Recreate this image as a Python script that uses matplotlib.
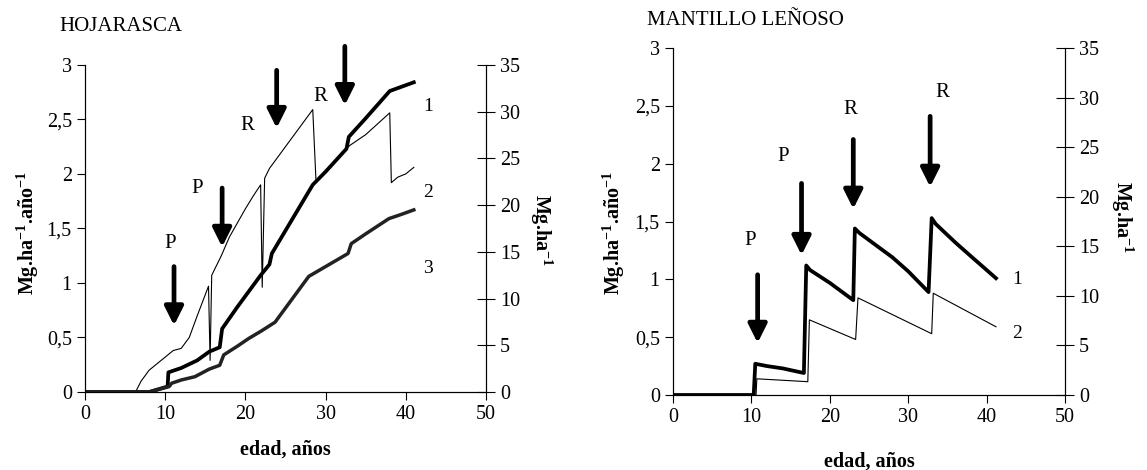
import matplotlib
matplotlib.use("Agg")
import matplotlib.pyplot as plt

plt.rcParams['font.family'] = ['Liberation Serif', 'DejaVu Serif']
plt.rcParams['mathtext.fontset'] = 'custom'
plt.rcParams['mathtext.rm'] = 'Liberation Serif:bold'
plt.rcParams['mathtext.bf'] = 'Liberation Serif:bold'
plt.rcParams['mathtext.default'] = 'bf'

# HOJARASCA (left panel), values in left-axis units
hoj1_x = [0, 8, 10.3, 10.4, 12, 14, 15.5, 16.8, 17.1, 19, 21.9, 23.0, 23.3,
          25, 28.4, 30, 32.6, 32.9, 35, 38, 41]
hoj1_y = [0, 0, 0.05, 0.18, 0.22, 0.29, 0.37, 0.41, 0.58, 0.78, 1.07, 1.17,
          1.27, 1.48, 1.90, 2.02, 2.23, 2.34, 2.51, 2.76, 2.84]

hoj2_x = [0, 6.3, 7, 8, 9, 10, 11, 12, 13, 14, 15.4, 15.6, 15.8, 17, 18, 19,
          20, 21, 21.9, 22.1, 22.4, 23, 24, 25, 26, 27, 28.4, 28.8, 30, 32.6,
          33, 35, 38, 38.2, 39, 40, 41]
hoj2_y = [0, 0, 0.1, 0.2, 0.26, 0.32, 0.38, 0.4, 0.5, 0.7, 0.97, 0.29, 1.07,
          1.25, 1.42, 1.55, 1.68, 1.8, 1.9, 0.96, 1.96, 2.05, 2.15, 2.25, 2.35,
          2.45, 2.59, 1.94, 2.02, 2.23, 2.26, 2.36, 2.56, 1.92, 1.97, 2.0, 2.06]

hoj3_x = [0, 8, 10.5, 10.8, 12, 13.7, 15.5, 16.8, 17.3, 19, 20.4, 22, 23.7,
          26, 27.9, 30, 32.8, 33.2, 35, 37.9, 39.5, 41]
hoj3_y = [0, 0, 0.05, 0.08, 0.11, 0.14, 0.21, 0.245, 0.34, 0.42, 0.49, 0.56,
          0.64, 0.87, 1.06, 1.15, 1.27, 1.36, 1.45, 1.59, 1.63, 1.67]

hoj_arrow_x = [11.1, 17.1, 23.9, 32.4]
hoj_arrow_top = [1.15, 1.87, 2.95, 3.17]
hoj_arrow_tip = [0.61, 1.33, 2.42, 2.63]
hoj_marks = ['P', 'P', 'R', 'R']
hoj_mark_x = [10.6, 14.0, 20.3, 29.3]
hoj_mark_y = [1.36, 1.87, 2.44, 2.71]
hoj_num = ['1', '2', '3']
hoj_num_y = [2.62, 1.83, 1.13]

# MANTILLO LEÑOSO (right panel)
man1_x = [0, 10.3, 10.5, 12, 14, 16.7, 17.0, 17.5, 20, 23.0, 23.2, 23.8, 26,
          28, 30, 32.6, 33.0, 33.5, 36, 38, 41.2]
man1_y = [0, 0, 0.27, 0.25, 0.23, 0.19, 1.12, 1.08, 0.97, 0.82, 1.44, 1.40,
          1.29, 1.19, 1.07, 0.89, 1.53, 1.48, 1.32, 1.20, 1.01]

man2_x = [0, 10.6, 10.7, 17.2, 17.4, 23.3, 23.6, 33.0, 33.2, 41.2]
man2_y = [0, 0, 0.14, 0.115, 0.65, 0.48, 0.84, 0.53, 0.88, 0.59]

man_arrow_x = [10.8, 16.4, 23.0, 32.8]
man_arrow_top = [1.04, 1.83, 2.21, 2.41]
man_arrow_tip = [0.45, 1.21, 1.61, 1.80]
man_marks = ['P', 'P', 'R', 'R']
man_mark_x = [9.9, 14.1, 22.6, 34.3]
man_mark_y = [1.34, 2.06, 2.47, 2.62]
man_num = ['1', '2']
man_num_y = [1.0, 0.53]

x_ticks = [0, 10, 20, 30, 40, 50]
left_ticks = [0, 0.5, 1, 1.5, 2, 2.5, 3]
left_labels = ['0', '0,5', '1', '1,5', '2', '2,5', '3']
right_ticks = [0, 5, 10, 15, 20, 25, 30, 35]


def style_axes(ax, xlab_pos, ylab_pos, rlab_pos):
    ax.set_xlim(0, 50)
    ax.set_ylim(0, 3)
    ax.set_xticks(x_ticks)
    ax.set_yticks(left_ticks)
    ax.set_yticklabels(left_labels)
    ax.tick_params(direction='out', length=6, labelsize=14.5)
    ax.spines['top'].set_visible(False)
    ax.set_xlabel('edad, años', fontsize=14.5, fontweight='bold', va='center')
    ax.xaxis.set_label_coords(*xlab_pos)
    ax.set_ylabel('Mg.ha$^{-1}$.año$^{-1}$', fontsize=14.5, fontweight='bold',
                  va='center')
    ax.yaxis.set_label_coords(*ylab_pos)
    ax2 = ax.twinx()
    ax2.set_ylim(0, 35)
    ax2.set_yticks(right_ticks)
    ax2.tick_params(direction='inout', length=13, labelsize=14.5)
    ax2.spines['top'].set_visible(False)
    ax2.set_ylabel('Mg.ha$^{-1}$', fontsize=14.5, fontweight='bold',
                   rotation=270, va='center')
    ax2.yaxis.set_label_coords(*rlab_pos)
    return ax2


def draw_arrows(ax, xs, tops, tips, marks, mx, my):
    for x, t, b in zip(xs, tops, tips):
        ax.annotate('', xy=(x, b), xytext=(x, t), annotation_clip=False,
                    arrowprops=dict(arrowstyle='-|>', lw=3.4, color='black',
                                    mutation_scale=28, shrinkA=0, shrinkB=0))
    for s, x, y in zip(marks, mx, my):
        ax.text(x, y, s, fontsize=15, ha='center', va='center')


fig = plt.figure(figsize=(11.47, 4.70), dpi=100)

ax = fig.add_axes([0.0741, 0.166, 0.3496, 0.696])
style_axes(ax, (0.5, -0.177), (-0.142, 0.486), (1.137, 0.495))
ax.plot(hoj2_x, hoj2_y, color='black', lw=0.8)
ax.plot(hoj1_x, hoj1_y, color='black', lw=2.7)
ax.plot(hoj3_x, hoj3_y, color='#222222', lw=2.5)
draw_arrows(ax, hoj_arrow_x, hoj_arrow_top, hoj_arrow_tip,
            hoj_marks, hoj_mark_x, hoj_mark_y)
for s, y in zip(hoj_num, hoj_num_y):
    ax.text(42.8, y, s, fontsize=14, ha='center', va='center')
fig.text(0.052, 0.943, 'HOJARASCA', fontsize=15, ha='left', va='center')

bx = fig.add_axes([0.5867, 0.1596, 0.3418, 0.738])
style_axes(bx, (0.5, -0.193), (-0.1505, 0.467), (1.145, 0.513))
bx.plot(man2_x, man2_y, color='black', lw=0.8)
bx.plot(man1_x, man1_y, color='black', lw=2.7)
draw_arrows(bx, man_arrow_x, man_arrow_top, man_arrow_tip,
            man_marks, man_mark_x, man_mark_y)
for s, y in zip(man_num, man_num_y):
    bx.text(43.9, y, s, fontsize=14, ha='center', va='center')
fig.text(0.564, 0.957, 'MANTILLO LEÑOSO', fontsize=15, ha='left', va='center')

fig.savefig('out.png', dpi=100)
